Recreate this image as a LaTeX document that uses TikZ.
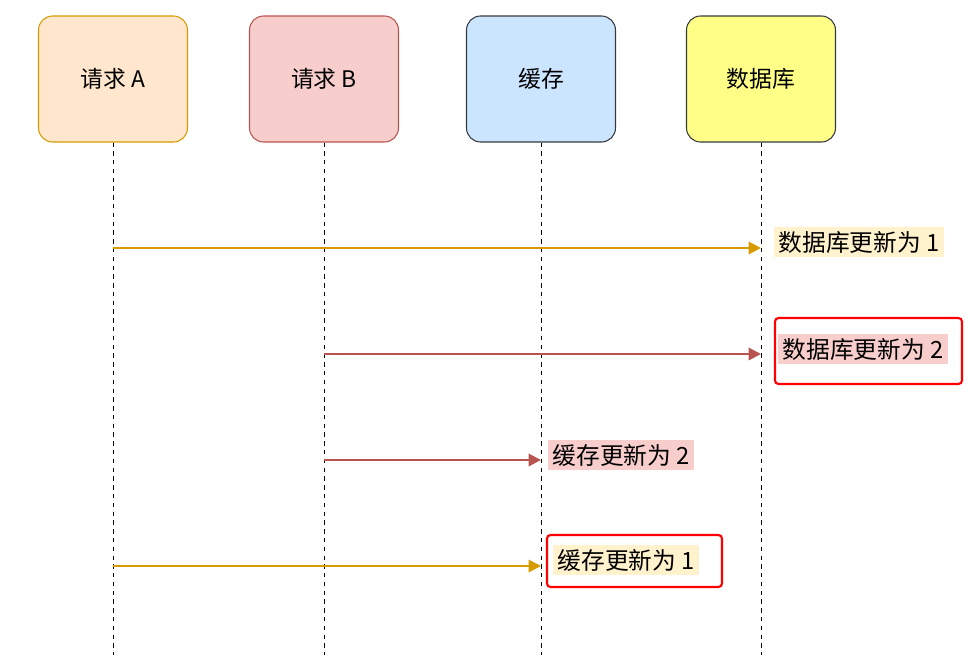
\documentclass[tikz,border=0pt]{standalone}
\usepackage{fontspec}
\setmainfont{Noto Sans CJK SC}
\usetikzlibrary{arrows.meta,positioning}
\definecolor{aFill}{HTML}{FFE6CC}\definecolor{aLine}{HTML}{D79B00}
\definecolor{bFill}{HTML}{F8CECC}\definecolor{bLine}{HTML}{B85450}
\definecolor{cFill}{HTML}{CCE5FF}\definecolor{dFill}{HTML}{FFFF88}
\definecolor{gLine}{HTML}{36393D}\definecolor{noteA}{HTML}{FFF2CC}
\tikzset{
  actor/.style={draw, rounded corners=8pt, minimum width=149*0.2mm, minimum height=126*0.2mm, font=\fontsize{13}{15}\selectfont, line width=0.6pt},
  life/.style={dashed, line width=0.5pt, dash pattern=on 2.5pt off 2.5pt},
  msg/.style={-{Triangle[length=7pt,width=7pt]}, line width=1.2pt},
  note/.style={inner sep=2.5pt, font=\fontsize{13.5}{15}\selectfont},
  redbox/.style={draw=red, line width=1.2pt, rounded corners=2pt}
}
\begin{document}
\begin{tikzpicture}[x=0.2mm, y=-0.2mm]
  \useasboundingbox (0,0) rectangle (971,666);

  \node[actor, fill=aFill, draw=aLine] (reqA) at (113,79) {请求 A};
  \node[actor, fill=bFill, draw=bLine] (reqB) at (324,79) {请求 B};
  \node[actor, fill=cFill, draw=gLine] (cache) at (541,79) {缓存};
  \node[actor, fill=dFill, draw=gLine] (db) at (761,79) {数据库};

  \coordinate (endA) at (113,655);
  \coordinate (endB) at (324,655);
  \coordinate (endC) at (541,655);
  \coordinate (endD) at (761,655);
  \draw[life] (reqA) -- (endA);
  \draw[life] (reqB) -- (endB);
  \draw[life] (cache) -- (endC);
  \draw[life] (db) -- (endD);

  % messages
  \draw[msg, aLine] (113,248) -- (761,248);
  \node[note, fill=noteA, anchor=west] (n1) at (774,242) {数据库更新为 1};

  \draw[msg, bLine] (324,354) -- (761,354);
  \node[note, fill=bFill, anchor=west] (n2) at (778,349) {数据库更新为 2};
  \draw[redbox] (775,318) rectangle (962,384);

  \draw[msg, bLine] (324,460) -- (541,460);
  \node[note, fill=bFill, anchor=west] (n3) at (548,455) {缓存更新为 2};

  \draw[msg, aLine] (113,566) -- (541,566);
  \node[note, fill=noteA, anchor=west] (n4) at (553,560) {缓存更新为 1};
  \draw[redbox] (547,535) rectangle (722,587);
\end{tikzpicture}
\end{document}
